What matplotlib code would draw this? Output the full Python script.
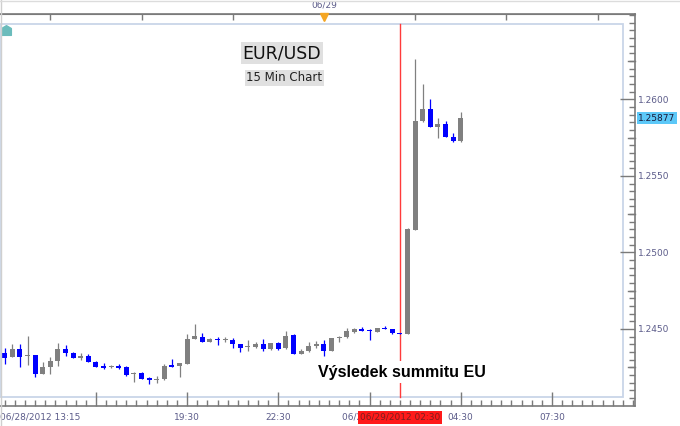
import numpy as np
import pandas as pd
import matplotlib
matplotlib.use("Agg")
import matplotlib.pyplot as plt
from matplotlib.patches import Rectangle
from matplotlib.lines import Line2D

# EUR/USD 15 min candles, 06/28/2012 13:30 -> 06/29/2012 04:30
opens = [1.24343, 1.24317, 1.24369, 1.24324, 1.24330, 1.24206, 1.24252, 1.24291, 1.24369, 1.24343,
         1.24311, 1.24324, 1.24285, 1.24254, 1.24249, 1.24254, 1.24252, 1.24206, 1.24213, 1.24180,
         1.24167, 1.24174, 1.24258, 1.24258, 1.24271, 1.24435, 1.24448, 1.24417, 1.24435, 1.24426,
         1.24428, 1.24402, 1.24380, 1.24382, 1.24402, 1.24369, 1.24409, 1.24376, 1.24461, 1.24337,
         1.24356, 1.24391, 1.24402, 1.24356, 1.24439, 1.24448, 1.24480, 1.24498, 1.24490, 1.24480,
         1.24505, 1.24500, 1.24471, 1.24467, 1.25146, 1.25858, 1.25935, 1.25817, 1.25839, 1.25754,
         1.25730]
highs = [1.24376, 1.24402, 1.24402, 1.24454, 1.24330, 1.24285, 1.24317, 1.24409, 1.24396, 1.24350,
         1.24343, 1.24337, 1.24291, 1.24278, 1.24265, 1.24271, 1.24258, 1.24219, 1.24221, 1.24187,
         1.24193, 1.24271, 1.24304, 1.24278, 1.24467, 1.24533, 1.24474, 1.24443, 1.24448, 1.24448,
         1.24441, 1.24402, 1.24428, 1.24415, 1.24435, 1.24409, 1.24415, 1.24487, 1.24465, 1.24367,
         1.24415, 1.24422, 1.24428, 1.24441, 1.24454, 1.24507, 1.24507, 1.24513, 1.24498, 1.24508,
         1.24520, 1.24500, 1.24471, 1.25158, 1.26261, 1.26100, 1.26000, 1.25880, 1.25858, 1.25782,
         1.25917]
lows = [1.24271, 1.24317, 1.24252, 1.24265, 1.24187, 1.24206, 1.24206, 1.24258, 1.24324, 1.24311,
        1.24298, 1.24285, 1.24252, 1.24239, 1.24242, 1.24239, 1.24193, 1.24154, 1.24174, 1.24141,
        1.24147, 1.24167, 1.24252, 1.24187, 1.24271, 1.24435, 1.24415, 1.24417, 1.24396, 1.24415,
        1.24376, 1.24350, 1.24356, 1.24376, 1.24356, 1.24363, 1.24363, 1.24369, 1.24337, 1.24337,
        1.24350, 1.24376, 1.24324, 1.24356, 1.24415, 1.24441, 1.24477, 1.24487, 1.24428, 1.24478,
        1.24498, 1.24467, 1.24467, 1.24467, 1.25146, 1.25852, 1.25817, 1.25745, 1.25752, 1.25721,
        1.25721]
closes = [1.24311, 1.24369, 1.24317, 1.24330, 1.24206, 1.24252, 1.24291, 1.24369, 1.24343, 1.24311,
          1.24324, 1.24285, 1.24252, 1.24247, 1.24252, 1.24247, 1.24200, 1.24213, 1.24174, 1.24167,
          1.24174, 1.24258, 1.24254, 1.24278, 1.24435, 1.24454, 1.24415, 1.24435, 1.24428, 1.24430,
          1.24402, 1.24376, 1.24384, 1.24402, 1.24369, 1.24409, 1.24369, 1.24454, 1.24337, 1.24356,
          1.24389, 1.24402, 1.24356, 1.24441, 1.24443, 1.24487, 1.24500, 1.24487, 1.24487, 1.24505,
          1.24498, 1.24472, 1.24467, 1.25151, 1.25860, 1.25937, 1.25817, 1.25839, 1.25756, 1.25730,
          1.25877]

times = pd.date_range("2012-06-28 13:30", periods=len(opens), freq="15min")
event_time = pd.Timestamp("2012-06-29 02:30")
major_times = pd.to_datetime(["2012-06-28 16:30", "2012-06-28 19:30", "2012-06-28 22:30",
                              "2012-06-29 01:30", "2012-06-29 04:30", "2012-06-29 07:30"])
major_labels = ["", "19:30", "22:30", "06/29 01:30", "04:30", "07:30"]
top_times = pd.date_range("2012-06-28 15:00", "2012-06-29 09:00", freq="3h")
yticks = [1.2450, 1.2500, 1.2550, 1.2600]

label_col = "#5c5c8a"
spine_col = "#7a7a7a"


def to_idx(t):
    return (t - times[0]) / pd.Timedelta("15min")


o = np.array(opens)
h = np.array(highs)
l = np.array(lows)
c = np.array(closes)
x = np.arange(len(o))
cols = np.where(c >= o, "#808080", "#0000ff")

fig = plt.figure(figsize=(6.8, 4.26), dpi=100)
ax = fig.add_axes([0, 20 / 426, 635 / 680, 392 / 426])
ax.set_xlim(-0.62, 82.93)
ax.set_ylim(1.23997, 1.26557)

# inner light-blue frame
ax.add_patch(Rectangle((0, 9 / 392), 623 / 635, 373 / 392, transform=ax.transAxes,
                       fill=False, edgecolor="#c9d5e8", lw=1.3, zorder=1))

# event line
ev = to_idx(event_time)
ax.axvline(ev, ymin=9 / 392, ymax=382 / 392, color="#ff3b3b", lw=1, zorder=2)

# candles
ax.vlines(x, l, h, colors=cols, lw=0.9, zorder=3)
body = np.maximum(np.abs(c - o), 0.00008)
ax.bar(x, body, bottom=np.minimum(o, c), width=0.66, color=cols, zorder=4)

# spines
ax.spines["left"].set_visible(False)
for s in ["top", "right", "bottom"]:
    ax.spines[s].set_color(spine_col)
    ax.spines[s].set_linewidth(1.2)

# y axis on right
ax.yaxis.tick_right()
ax.set_yticks(yticks)
ax.set_yticklabels([f"{v:.4f}" for v in yticks])
ax.set_yticks(np.arange(1.2405, 1.2655, 0.0005), minor=True)
ax.tick_params(axis="y", which="major", direction="in", length=11, width=1, color=spine_col,
               labelsize=6.5, labelcolor=label_col, pad=2)
ax.tick_params(axis="y", which="minor", direction="in", length=4, width=1, color=spine_col)
for v in np.arange(1.2425, 1.2655, 0.005):
    ax.plot([1, 1 - 7 / 635], [v, v], transform=ax.get_yaxis_transform(), color=spine_col,
            lw=1, clip_on=False)

# bottom axis
ax.set_xticks([to_idx(t) for t in major_times])
ax.set_xticklabels(major_labels)
ax.set_xticks(np.arange(to_idx(major_times[0]) - 9 * 4 / 3, 83, 4 / 3), minor=True)
ax.tick_params(axis="x", which="major", direction="in", length=10, width=1, color=spine_col,
               labelsize=6.5, labelcolor=label_col, pad=5)
ax.tick_params(axis="x", which="minor", direction="in", length=4, width=1, color=spine_col)
ax.text(0, -0.029, "06/28/2012 13:15", transform=ax.transAxes, ha="left", va="center",
        fontsize=6.5, color=label_col)
ax.text(ev, -0.029, "06/29/2012 02:30", transform=ax.get_xaxis_transform(), ha="center",
        va="center", fontsize=6.5, color="#7d1f1f", zorder=10,
        bbox=dict(boxstyle="square,pad=0.2", facecolor="#ff1a1a", edgecolor="none"))

# top axis
top = ax.secondary_xaxis("top")
top.set_xticks([to_idx(t) for t in top_times])
top.set_xticklabels([])
top.tick_params(direction="in", length=4, width=1, color=spine_col)
top.spines["top"].set_color(spine_col)
mid = to_idx(pd.Timestamp("2012-06-29 00:00"))
ax.text(mid, 1.022, "06/29", transform=ax.get_xaxis_transform(), ha="center", va="center",
        fontsize=6.5, color=label_col)
ax.plot([mid], [0.993], marker="v", ms=6, color="#f5a623", transform=ax.get_xaxis_transform(),
        clip_on=False, zorder=6)
ax.plot([6 / 635], [0.958], marker=[(-1, -1), (1, -1), (1, 0.4), (0, 1), (-1, 0.4)], ms=7,
        color="#6bbcbc", transform=ax.transAxes, clip_on=False)

# titles
ax.text(0.444, 0.9005, "EUR/USD", transform=ax.transAxes, ha="center", va="center",
        fontsize=12.5, color="#111111",
        bbox=dict(boxstyle="square,pad=0.12", facecolor="#e0e0e0", edgecolor="none"))
ax.text(0.448, 0.837, "15 Min Chart", transform=ax.transAxes, ha="center", va="center",
        fontsize=8.5, color="#222222",
        bbox=dict(boxstyle="square,pad=0.15", facecolor="#e0e0e0", edgecolor="none"))
ax.text(ev + 0.2, 0.0867, "Výsledek summitu EU", transform=ax.get_xaxis_transform(),
        ha="center", va="center", fontsize=11.5, fontweight="bold",
        family=["Liberation Sans", "DejaVu Sans"], color="black", zorder=5,
        bbox=dict(boxstyle="square,pad=0.2", facecolor="white", edgecolor="none"))

# last price tag
ax.text(1.005, c[-1], f"{c[-1]:.5f}", transform=ax.get_yaxis_transform(), ha="left",
        va="center", fontsize=6.5, color="#1a1a3a", clip_on=False,
        bbox=dict(boxstyle="square,pad=0.15", facecolor="#5cc8f8", edgecolor="none"))

# outer light border of the widget
fig.add_artist(Line2D([0.5 / 680, 0.5 / 680], [0, 1], color="#cfcfcf", lw=1))
fig.add_artist(Line2D([0, 1], [1 - 0.5 / 426, 1 - 0.5 / 426], color="#dcdcdc", lw=1))

fig.savefig("out.png", dpi=100)
